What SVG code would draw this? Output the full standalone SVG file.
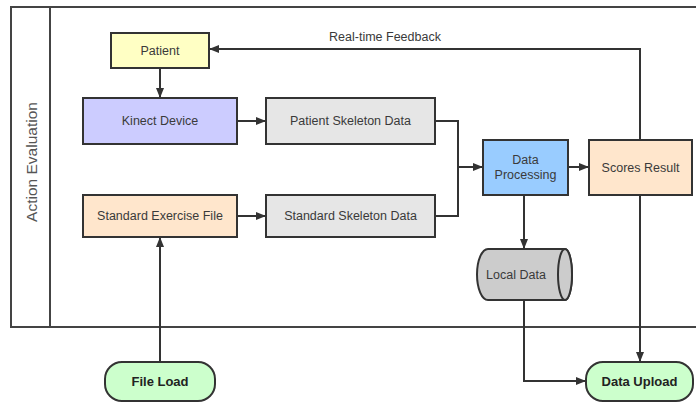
<svg xmlns="http://www.w3.org/2000/svg" width="696" height="403" viewBox="0 0 696 403">
<style>
.n{stroke:#333;stroke-width:2}
.t{font-family:"Liberation Sans",Arial,sans-serif;font-size:12.5px;fill:#3a3a3a;text-anchor:middle;dominant-baseline:central}
.b{font-weight:bold;font-size:13px;fill:#222}
.c{fill:none;stroke:#333;stroke-width:2}
.f{fill:none;stroke:#444;stroke-width:2}
</style>
<defs>
<marker id="a" viewBox="0 0 10 8" refX="10" refY="4" markerWidth="10" markerHeight="8" markerUnits="userSpaceOnUse" orient="auto">
<path d="M0,0L10,4L0,8z" fill="#333"/>
</marker>
</defs>
<rect width="696" height="403" fill="#fff"/>
<g id="frame">
<path class="f" d="M698,7H11V327H698M50,7V327"/>
<text class="t" transform="translate(31,162) rotate(-90)" style="font-size:15.5px;fill:#555">Action Evaluation</text>
</g>
<g id="connectors">
<path class="c" d="M160,68V98" marker-end="url(#a)"/>
<path class="c" d="M237,121H266" marker-end="url(#a)"/>
<path class="c" d="M237,216H266" marker-end="url(#a)"/>
<path class="c" d="M435,121H458V216H435"/>
<path class="c" d="M458,167H483" marker-end="url(#a)"/>
<path class="c" d="M568,167H589" marker-end="url(#a)"/>
<path class="c" d="M640,140V49H209" marker-end="url(#a)"/>
<text class="t" x="385" y="37">Real-time Feedback</text>
<path class="c" d="M524,195V249" marker-end="url(#a)"/>
<path class="c" d="M524,300V381H586" marker-end="url(#a)"/>
<path class="c" d="M640,195V362" marker-end="url(#a)"/>
<path class="c" d="M160,362V237" marker-end="url(#a)"/>
</g>
<g id="patient"><rect class="n" x="111" y="33" width="98" height="35" fill="#FFFFC4"/><text class="t" x="160" y="50.5">Patient</text></g>
<g id="kinect"><rect class="n" x="83" y="98" width="154" height="46" fill="#CCCCFF"/><text class="t" x="160" y="121">Kinect Device</text></g>
<g id="patientSkeleton"><rect class="n" x="266" y="98" width="169" height="46" fill="#E6E6E6"/><text class="t" x="350.5" y="121">Patient Skeleton Data</text></g>
<g id="standardFile"><rect class="n" x="83" y="195" width="154" height="42" fill="#FFE6CC"/><text class="t" x="160" y="216">Standard Exercise File</text></g>
<g id="standardSkeleton"><rect class="n" x="266" y="195" width="169" height="42" fill="#E6E6E6"/><text class="t" x="350.5" y="216">Standard Skeleton Data</text></g>
<g id="dataProcessing"><rect class="n" x="483" y="140" width="85" height="55" fill="#99CCFF"/><text class="t" x="525.5" y="160">Data</text><text class="t" x="525.5" y="175">Processing</text></g>
<g id="scores"><rect class="n" x="589" y="140" width="103" height="55" fill="#FFE6CC"/><text class="t" x="640.5" y="167.5">Scores Result</text></g>
<g id="localData">
<path class="n" d="M488,249H565A7,25.5 0 0 1 565,300H488A11,25.5 0 0 1 488,249z" fill="#CCCCCC"/>
<ellipse class="n" cx="565" cy="274.5" rx="7" ry="25.5" fill="#CCCCCC"/>
<text class="t" x="516" y="274.5">Local Data</text>
</g>
<g id="fileLoad"><rect class="n" x="105" y="362" width="110" height="39" rx="17" fill="#CCFFCC"/><text class="t b" x="160" y="381.5">File Load</text></g>
<g id="dataUpload"><rect class="n" x="586" y="362" width="107" height="39" rx="17" fill="#CCFFCC"/><text class="t b" x="639.5" y="381.5">Data Upload</text></g>
</svg>
